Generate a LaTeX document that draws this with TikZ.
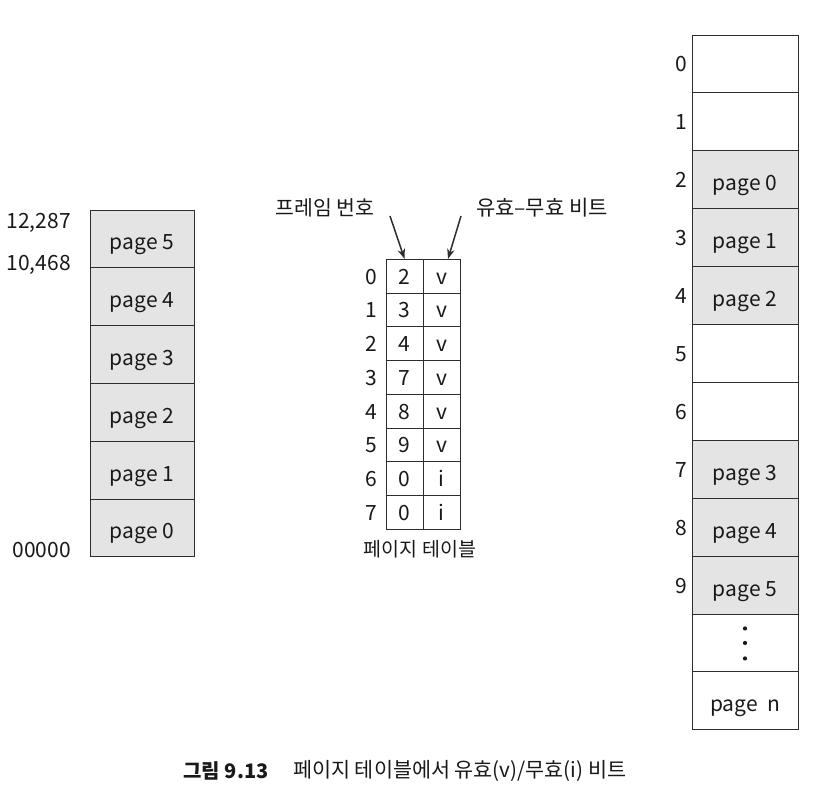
\documentclass[tikz,border=0pt]{standalone}
\usepackage{fontspec}
\setmainfont{Noto Sans CJK KR}
\usetikzlibrary{arrows.meta,calc}
\definecolor{pagegray}{RGB}{228,228,228}
\definecolor{linecol}{RGB}{45,45,45}
\definecolor{txtcol}{RGB}{25,25,25}
\begin{document}
\begin{tikzpicture}[x=1pt,y=-1pt,
  every node/.style={text=txtcol, font=\fontsize{21}{25}\selectfont},
  lcell/.style={draw=linecol, line width=0.9pt, fill=pagegray, minimum width=104pt, minimum height=57.8pt, inner sep=0pt, anchor=center, text height=22pt, text depth=0pt},
  rcell/.style={draw=linecol, line width=0.9pt, minimum width=106pt, minimum height=57.9pt, inner sep=0pt, anchor=center, text height=22pt, text depth=0pt},
  tcell/.style={draw=linecol, line width=0.9pt, fill=white, minimum width=37pt, minimum height=33.75pt, inner sep=0pt, anchor=center, text height=16pt, text depth=0pt},
  idx/.style={inner sep=0pt, anchor=center, text height=16pt, text depth=0pt},
  klabel/.style={inner sep=0pt, font=\fontsize{20}{24}\selectfont},
  arr/.style={draw=linecol, line width=1.5pt, -{Stealth[length=10pt,width=7.5pt]}}
]
\useasboundingbox (0,0) rectangle (820,792);

% left column: logical memory
\foreach \k/\p in {0/5,1/4,2/3,3/2,4/1,5/0}{
  \node[lcell] (L\p) at (142,{210+57.8*(\k+0.5)}) {page \p};
}
\node[idx, anchor=east] (a1) at (71,220) {12,287};
\node[idx, anchor=east] (a2) at (71,262) {10,468};
\node[idx, anchor=east] (a3) at (71,549) {00000};

% middle: page table
\foreach \r/\f/\b in {0/2/v,1/3/v,2/4/v,3/7/v,4/8/v,5/9/v,6/0/i,7/0/i}{
  \node[tcell] (F\r) at (404.5,{259.3+33.75*(\r+0.5)}) {\f};
  \node[tcell] (B\r) at (441.5,{259.3+33.75*(\r+0.5)}) {\b};
  \node[idx] (I\r) at (371,{259.3+33.75*(\r+0.5)}) {\r};
}
\node[klabel, font=\fontsize{20.5}{24}\selectfont] (fl) at (325,208) {프레임 번호};
\node[klabel, font=\fontsize{21}{24}\selectfont] (bl) at (542,208) {유효–무효 비트};
\node[klabel, font=\fontsize{19.5}{24}\selectfont] (pt) at (420,549) {페이지 테이블};
\coordinate (fa) at (390,216);
\coordinate (ba) at (461,216);
\draw[arr] (fa) -- (F0.north);
\draw[arr] (ba) -- ($(B0.north)+(6.5,0)$);

% right column: physical memory
\foreach \r/\fl/\t in {0/white/,1/white/,2/pagegray/page 0,3/pagegray/page 1,4/pagegray/page 2,5/white/,6/white/,7/pagegray/page 3,8/pagegray/page 4,9/pagegray/page 5,10/white/,11/white/page\ \ n}{
  \node[rcell, fill=\fl] (R\r) at (745,{35+57.9*(\r+0.5)}) {\t};
}
\foreach \r in {0,...,9}{
  \node[idx] (J\r) at (681,{35+57.9*(\r+0.5)}) {\r};
}
\foreach \d/\yy in {1/-14.5,2/0,3/15.5}{
  \fill[txtcol] ($(R10.center)+(0,\yy)$) circle (2.1pt);
}

% caption
\node[inner sep=0pt, font=\fontsize{20}{24}\selectfont\bfseries] (cap1) at (226,771) {그림 9.13};
\node[inner sep=0pt, anchor=west, font=\fontsize{20.7}{24}\selectfont] (cap2) at (293,771) {페이지 테이블에서 유효(v)/무효(i) 비트};
\end{tikzpicture}
\end{document}
